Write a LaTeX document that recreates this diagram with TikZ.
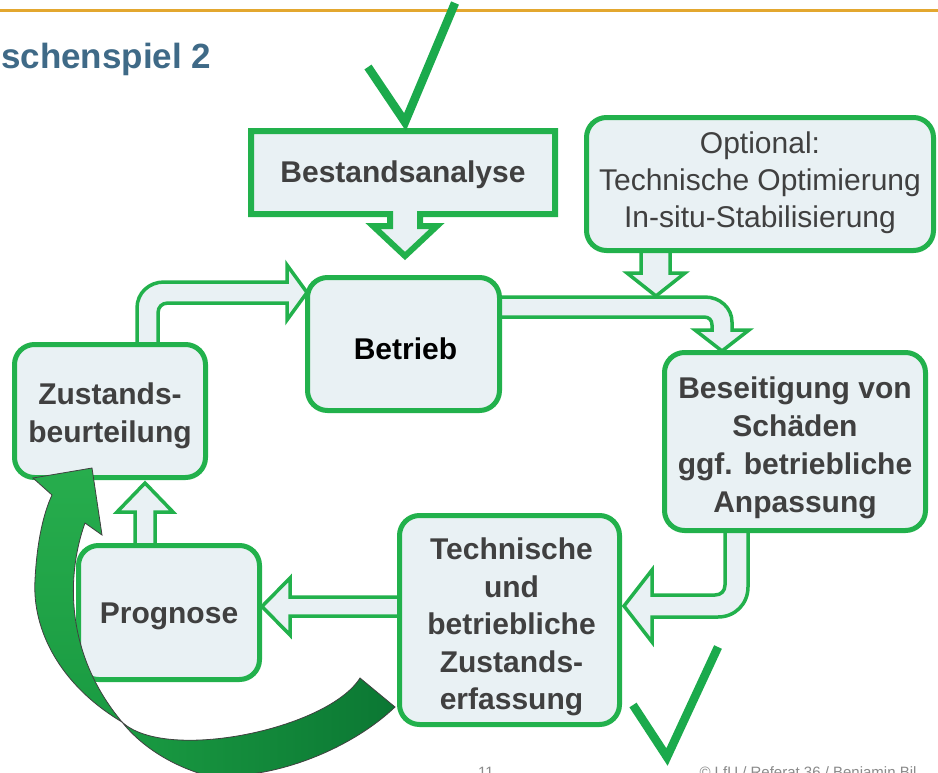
\documentclass[tikz,border=0pt]{standalone}
\usepackage{fontspec}
\setmainfont{Liberation Sans}
\definecolor{boxgreen}{HTML}{22B14C}
\definecolor{boxfill}{HTML}{E9F1F4}
\definecolor{txtgrey}{HTML}{404040}
\definecolor{tickgreen}{HTML}{1BAA4C}
\definecolor{topline}{HTML}{E3A72F}
\definecolor{titleblue}{HTML}{3F6A87}
\definecolor{footgrey}{HTML}{8A8A8A}
\definecolor{arrowlight}{HTML}{27AD4D}
\definecolor{arrowmid}{HTML}{1A9B42}
\definecolor{arrowdark}{HTML}{0B7733}
\begin{document}
\begin{tikzpicture}[x=1pt,y=-1pt,
  stage/.style={draw=boxgreen, line width=5pt, fill=boxfill, rounded corners=20pt,
    inner sep=0pt},
  stagetext/.style={inner sep=0pt, text=txtgrey, align=center,
    font=\bfseries\fontsize{30}{37.5}\selectfont},
  flow/.style={draw=boxgreen, line width=3.5pt, fill=boxfill, line join=miter},
  callout/.style={draw=boxgreen, line width=6pt, fill=boxfill, line join=miter},
  tick/.style={draw=tickgreen, line width=8.5pt},
  bigarrow/.style={draw=black!75, line width=0.8pt}]

\path[use as bounding box, clip] (0,0) rectangle (938,772);
\fill[white] (0,0) rectangle (938,772);

% header rule and title
\draw[topline, line width=3pt] (0,10) -- (938,10);
\node[anchor=base west, inner sep=0pt, text=titleblue,
  font=\bfseries\fontsize{35}{40}\selectfont]
  (titel) at (1,68) {schenspiel 2};

% block arrows of the cycle (drawn below the boxes)
% Zustandsbeurteilung -> Betrieb
\draw[flow] (137,346) -- (137,308) .. controls (137,293) and (149,282) .. (164,282)
  -- (287,282) -- (287,265) -- (307,292.5) -- (287,320) -- (287,303) -- (168,303)
  .. controls (162,303) and (158,307) .. (158,313) -- (158,346) -- cycle;
% Betrieb -> Beseitigung
\draw[flow] (500,297) -- (705,297) .. controls (720,297) and (732,308) .. (732,322)
  -- (732,330) -- (749,330) -- (722,351) -- (695,330) -- (712,330) -- (712,325)
  .. controls (712,320) and (709,317) .. (704,317) -- (500,317) -- cycle;
% Optional -> cycle
\draw[flow] (641,250) -- (641,273) -- (627,273) -- (656,296) -- (685,273)
  -- (670,273) -- (670,250) -- cycle;
% Beseitigung -> Technische
\draw[flow] (725,530) -- (725,585) .. controls (725,591) and (721,595) .. (715,595)
  -- (652,595) -- (652,570) -- (624,606) -- (652,642) -- (652,617) -- (718,617)
  .. controls (735,617) and (748,604) .. (748,587) -- (748,530) -- cycle;
% Technische -> Prognose
\draw[flow] (400,597) -- (290,597) -- (290,578) -- (262,606.5) -- (290,635)
  -- (290,616) -- (400,616) -- cycle;
% Prognose -> Zustandsbeurteilung
\draw[flow] (135,546) -- (135,512) -- (117,512) -- (145,483) -- (173,512)
  -- (155,512) -- (155,546) -- cycle;

% process boxes
\node[stage, minimum width=191pt, minimum height=133pt] (zust) at (110,411) {};
\node[stage, minimum width=192pt, minimum height=133pt] (betrieb) at (403.5,344) {};
\node[stage, minimum width=347pt, minimum height=133pt] (opt) at (760,184) {};
\node[stage, minimum width=261pt, minimum height=178pt] (beseit) at (795,441.5) {};
\node[stage, minimum width=220pt, minimum height=209pt] (tech) at (509.5,620) {};
\node[stage, minimum width=181pt, minimum height=134pt] (prog) at (169,612.5) {};

% box labels
\node[stagetext] (zust-t) at ([yshift=-5pt]zust.center) {Zustands-\\beurteilung};
\node[stagetext, text=black] (betrieb-t) at ([xshift=2pt,yshift=-5pt]betrieb.center) {Betrieb};
\node[stagetext, font=\fontsize{30}{37}\selectfont] (opt-t) at ([yshift=1pt]opt.center)
  {Optional:\\Technische Optimierung\\In-situ-Stabilisierung};
\node[stagetext, font=\bfseries\fontsize{30}{38}\selectfont] (beseit-t)
  at ([yshift=-6pt]beseit.center)
  {Beseitigung von\\Schäden\\ggf. betriebliche\\Anpassung};
\node[stagetext] (tech-t) at ([xshift=2pt,yshift=-7pt]tech.center)
  {Technische\\und\\betriebliche\\Zustands-\\erfassung};
\node[stagetext] (prog-t) at ([yshift=-4pt]prog.center) {Prognose};

% Bestandsanalyse box with its down-pointing callout
\draw[callout] (251,131) -- (555,131) -- (555,214) -- (420,214) -- (420,226)
  -- (437,226) -- (405,256) -- (373,226) -- (390,226) -- (390,214)
  -- (251,214) -- cycle;
\node[text=txtgrey, font=\bfseries\fontsize{30}{36}\selectfont] (bestand)
  at (403,175) {Bestandsanalyse};

% large curved return arrow: back face first, then front face with head
\draw[bigarrow, left color=arrowmid, right color=arrowdark]
  (122,722) .. controls (166,763) and (328,729) .. (360,678) -- (395,707)
  .. controls (350,750) and (270,782) .. (205,775)
  .. controls (170,765) and (140,745) .. (122,722) -- cycle;
\draw[bigarrow, top color=arrowlight, bottom color=arrowmid]
  (52,495) -- (33,478) -- (92,468) -- (102,535) -- (85,523)
  .. controls (68,570) and (62,650) .. (122,722)
  .. controls (60,685) and (32,630) .. (35,580)
  .. controls (37,540) and (44,512) .. (52,495) -- cycle;

% check marks
\draw[tick] (368,67) -- (405,122) -- (455,3);
\draw[tick] (633,705) -- (667,757) -- (718,647);

% footer, running off the lower edge
\node[anchor=base, text=footgrey, font=\fontsize{15}{18}\selectfont] (seite)
  at (486,777) {11};
\node[anchor=base west, text=footgrey, font=\fontsize{15}{18}\selectfont] (quelle)
  at (696,777) {© LfU / Referat 36 / Benjamin Bil};
\end{tikzpicture}
\end{document}
